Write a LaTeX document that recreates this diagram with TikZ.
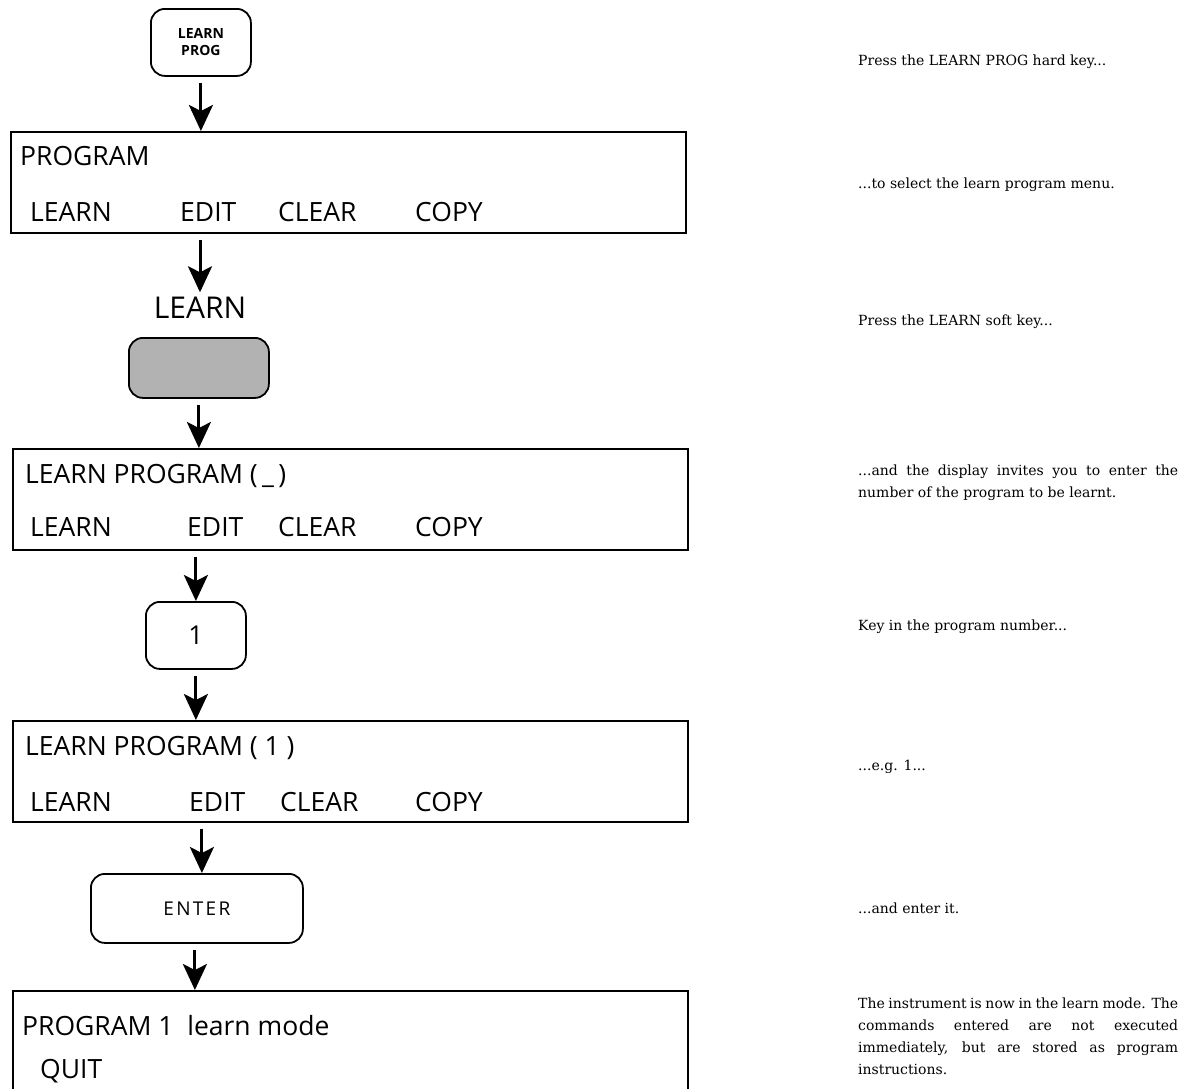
\documentclass[tikz,border=0pt]{standalone}
\usepackage{fontspec}
\setmainfont{DejaVu Serif}
\newfontfamily\boxfont{Open Sans}
\usetikzlibrary{arrows.meta}
\tikzset{
  scr/.style={draw, line width=1.6pt, minimum width=675pt, minimum height=101pt, anchor=north west, inner sep=0pt},
  keybox/.style={draw, line width=1.8pt, rounded corners=14pt, inner sep=0pt, anchor=north west},
  softkey/.style={keybox, fill=black!30},
  btxt/.style={font=\boxfont\fontsize{26.5}{30}\selectfont, anchor=base west, inner sep=0pt},
  rtxt/.style={font=\fontsize{14}{22}\selectfont, anchor=base west, inner sep=0pt},
  rpar/.style={rtxt, text width=320pt, align=justify},
  flow/.style={line width=3pt, -{Stealth[length=26pt,width=24pt,inset=6pt]}, shorten <=6pt}
}
\begin{document}
\begin{tikzpicture}[x=1pt,y=-1pt]
\useasboundingbox (0,0) rectangle (1186,1088);
% keys and screens
\node[keybox, minimum width=100pt, minimum height=67pt] (k1) at (150,8) {};
\node[font=\boxfont\bfseries\fontsize{14}{17}\selectfont, align=center, inner sep=0pt] (k1t) at (k1.center) {LEARN\\PROG};
\node[scr] (b1) at (10,131) {};
\node[btxt] (b1l1) at (20,165) {PROGRAM};
\node[btxt] (b1w1) at (30,221) {LEARN};
\node[btxt] (b1w2) at (180,221) {EDIT};
\node[btxt] (b1w3) at (278,221) {CLEAR};
\node[btxt] (b1w4) at (415,221) {COPY};
\node[font=\boxfont\fontsize{30}{34}\selectfont, inner sep=0pt, anchor=base] (lbl) at (200,318) {LEARN};
\node[softkey, minimum width=140pt, minimum height=60pt] (gk) at (128,337) {};
\node[scr] (b2) at (12,448) {};
\node[btxt] (b2l1) at (25,483) {LEARN PROGRAM (\,\_\,)};
\node[btxt] (b2w1) at (30,536) {LEARN};
\node[btxt] (b2w2) at (187,536) {EDIT};
\node[btxt] (b2w3) at (278,536) {CLEAR};
\node[btxt] (b2w4) at (415,536) {COPY};
\node[keybox, minimum width=100pt, minimum height=67pt] (k2) at (145,601) {};
\node[font=\boxfont\fontsize{26}{30}\selectfont, inner sep=0pt] (k2t) at (k2.center) {1};
\node[scr] (b3) at (12,720) {};
\node[btxt] (b3l1) at (25,755) {LEARN PROGRAM ( 1 )};
\node[btxt] (b3w1) at (30,811) {LEARN};
\node[btxt] (b3w2) at (189,811) {EDIT};
\node[btxt] (b3w3) at (280,811) {CLEAR};
\node[btxt] (b3w4) at (415,811) {COPY};
\node[keybox, minimum width=212pt, minimum height=69pt] (k3) at (90,873) {};
\node[font=\boxfont\fontsize{19}{22}\selectfont\addfontfeatures{LetterSpace=12}, inner sep=0pt] (k3t) at (k3.center) {ENTER};
\node[scr, minimum height=110pt] (b4) at (12,990) {};
\node[btxt] (b4l1) at (22,1035) {PROGRAM 1\ \ learn mode};
\node[btxt] (b4l2) at (40,1078) {QUIT};
% connectors
\draw[flow] (k1.south) -- (k1.south |- b1.north);
\draw[flow] (lbl.north |- b1.south) -- ([yshift=4pt]lbl.north);
\draw[flow] (gk.south) -- (gk.south |- b2.north);
\draw[flow] (k2.north |- b2.south) -- (k2.north);
\draw[flow] (k2.south) -- (k2.south |- b3.north);
\draw[flow] ([xshift=5pt]k3.north |- b3.south) -- ([xshift=5pt]k3.north);
\draw[flow] ([xshift=-2pt]k3.south) -- ([xshift=-2pt]k3.south |- b4.north);
% explanations
\node[rtxt] (t1) at (858,65) {Press the LEARN PROG hard key...};
\node[rtxt] (t2) at (858,188) {...to select the learn program menu.};
\node[rtxt] (t3) at (858,325) {Press the LEARN soft key...};
\node[rpar] (t4) at (858,475) {...and the display invites you to enter the\linebreak number of the program to be learnt.};
\node[rtxt] (t5) at (858,630) {Key in the program number...};
\node[rtxt] (t6) at (858,770) {...e.g. 1...};
\node[rtxt] (t7) at (858,913) {...and enter it.};
\node[rpar] (t8) at (858,1008) {The instrument is now in the learn mode. The\linebreak commands entered are not executed\linebreak immediately, but are stored as program\linebreak instructions.};
\end{tikzpicture}
\end{document}
